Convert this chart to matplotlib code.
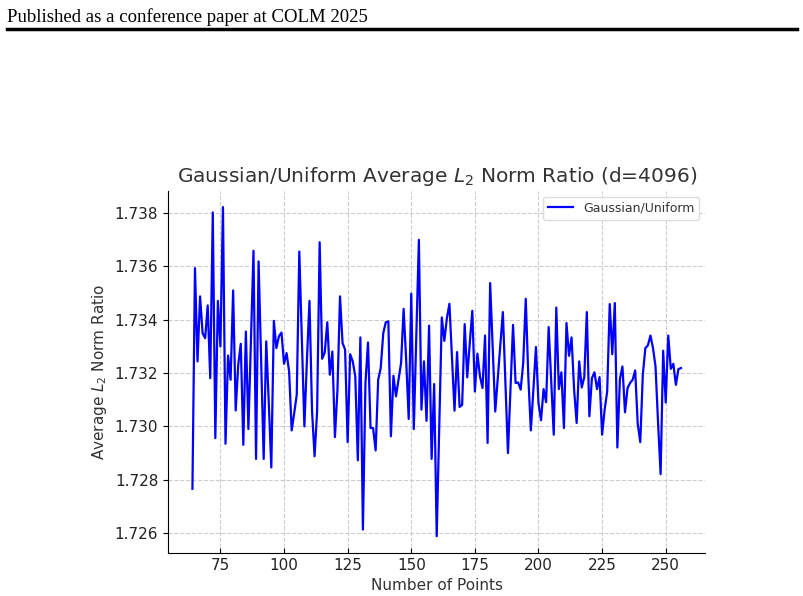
import matplotlib
matplotlib.use("Agg")
import matplotlib.pyplot as plt
from matplotlib.lines import Line2D

# ------------------------
# Data
# ------------------------
num_points = list(range(64, 257))
ratio = [
    1.72766, 1.73594, 1.73244, 1.73488, 1.73350, 1.73331, 1.73454, 1.73181,  # 64-71
    1.73803, 1.72956, 1.73471, 1.73300, 1.73823, 1.72935, 1.73266, 1.73175,  # 72-79
    1.73510, 1.73060, 1.73231, 1.73310, 1.72931, 1.73356, 1.72990, 1.73320,  # 80-87
    1.73659, 1.72878, 1.73619, 1.73250, 1.72878, 1.73319, 1.73090, 1.72846,  # 88-95
    1.73396, 1.73294, 1.73338, 1.73352, 1.73235, 1.73275, 1.73206, 1.72985,  # 96-103
    1.73050, 1.73119, 1.73656, 1.73325, 1.73000, 1.73250, 1.73471, 1.73060,  # 104-111
    1.72888, 1.73056, 1.73691, 1.73254, 1.73278, 1.73391, 1.73194, 1.73281,  # 112-119
    1.72960, 1.73138, 1.73488, 1.73313, 1.73288, 1.72941, 1.73271, 1.73244,  # 120-127
    1.73188, 1.72873, 1.73334, 1.72613, 1.73163, 1.73315, 1.72994, 1.72994,  # 128-135
    1.72910, 1.73175, 1.73219, 1.73350, 1.73391, 1.73394, 1.72963, 1.73190,  # 136-143
    1.73113, 1.73175, 1.73238, 1.73441, 1.73250, 1.73028, 1.73498, 1.72990,  # 144-151
    1.73350, 1.73700, 1.73063, 1.73244, 1.73021, 1.73378, 1.72878, 1.73159,  # 152-159
    1.72588, 1.72994, 1.73409, 1.73321, 1.73406, 1.73460, 1.73263, 1.73059,  # 160-167
    1.73279, 1.73073, 1.73081, 1.73384, 1.73184, 1.73313, 1.73434, 1.73131,  # 168-175
    1.73273, 1.73188, 1.73144, 1.73341, 1.72938, 1.73538, 1.73300, 1.73056,  # 176-183
    1.73180, 1.73305, 1.73429, 1.73163, 1.72900, 1.73138, 1.73381, 1.73163,  # 184-191
    1.73165, 1.73138, 1.73238, 1.73479, 1.73188, 1.72985, 1.73138, 1.73298,  # 192-199
    1.73088, 1.73023, 1.73140, 1.73091, 1.73373, 1.73175, 1.72969, 1.73446,  # 200-207
    1.73140, 1.73203, 1.72994, 1.73388, 1.73265, 1.73334, 1.73138, 1.73013,  # 208-215
    1.73244, 1.73146, 1.73185, 1.73429, 1.73038, 1.73181, 1.73203, 1.73140,  # 216-223
    1.73185, 1.72969, 1.73063, 1.73131, 1.73459, 1.73271, 1.73463, 1.72921,  # 224-231
    1.73178, 1.73225, 1.73053, 1.73144, 1.73163, 1.73175, 1.73210, 1.73010,  # 232-239
    1.72941, 1.73193, 1.73294, 1.73304, 1.73341, 1.73294, 1.73225, 1.73013,  # 240-247
    1.72821, 1.73284, 1.73090, 1.73341, 1.73216, 1.73235, 1.73156, 1.73215,  # 248-255
    1.73219,                                                                 # 256
]

title = "Gaussian/Uniform Average $L_2$ Norm Ratio (d=4096)"
header = "Published as a conference paper at COLM 2025"

# ------------------------
# Figure
# ------------------------
fig = plt.figure(figsize=(8.04, 5.96), dpi=100)

# paper header + rule
fig.text(7 / 804, 1 - 22 / 596, header, family="Liberation Serif", fontsize=13.5,
         color="black", va="baseline", ha="left")
fig.add_artist(Line2D([7 / 804, 797 / 804], [1 - 29 / 596] * 2,
                      color="black", lw=2.5, transform=fig.transFigure))

ax = fig.add_axes([168 / 804, 1 - 552.7 / 596, (705.4 - 168) / 804, (552.7 - 190.6) / 596])
ax.plot(num_points, ratio, color="blue", lw=1.6, label="Gaussian/Uniform")

ax.set_title(title, fontsize=14.5, color="#333333")
ax.set_xlabel("Number of Points", fontsize=11, color="#333333")
ax.set_ylabel("Average $L_2$ Norm Ratio", fontsize=11, color="#333333")
ax.set_xticks([75, 100, 125, 150, 175, 200, 225, 250])
ax.set_yticks([1.726, 1.728, 1.730, 1.732, 1.734, 1.736, 1.738])
ax.tick_params(axis="both", labelsize=11, labelcolor="#222222")
ax.tick_params(axis="x", direction="in")
ax.grid(True, linestyle="--", color="#cccccc", lw=0.8)
ax.spines["top"].set_visible(False)
ax.spines["right"].set_visible(False)
leg = ax.legend(loc="upper right", fontsize=9, framealpha=1, edgecolor="#dddddd")
for t in leg.get_texts():
    t.set_color("#333333")

fig.savefig("out.png", dpi=100)
